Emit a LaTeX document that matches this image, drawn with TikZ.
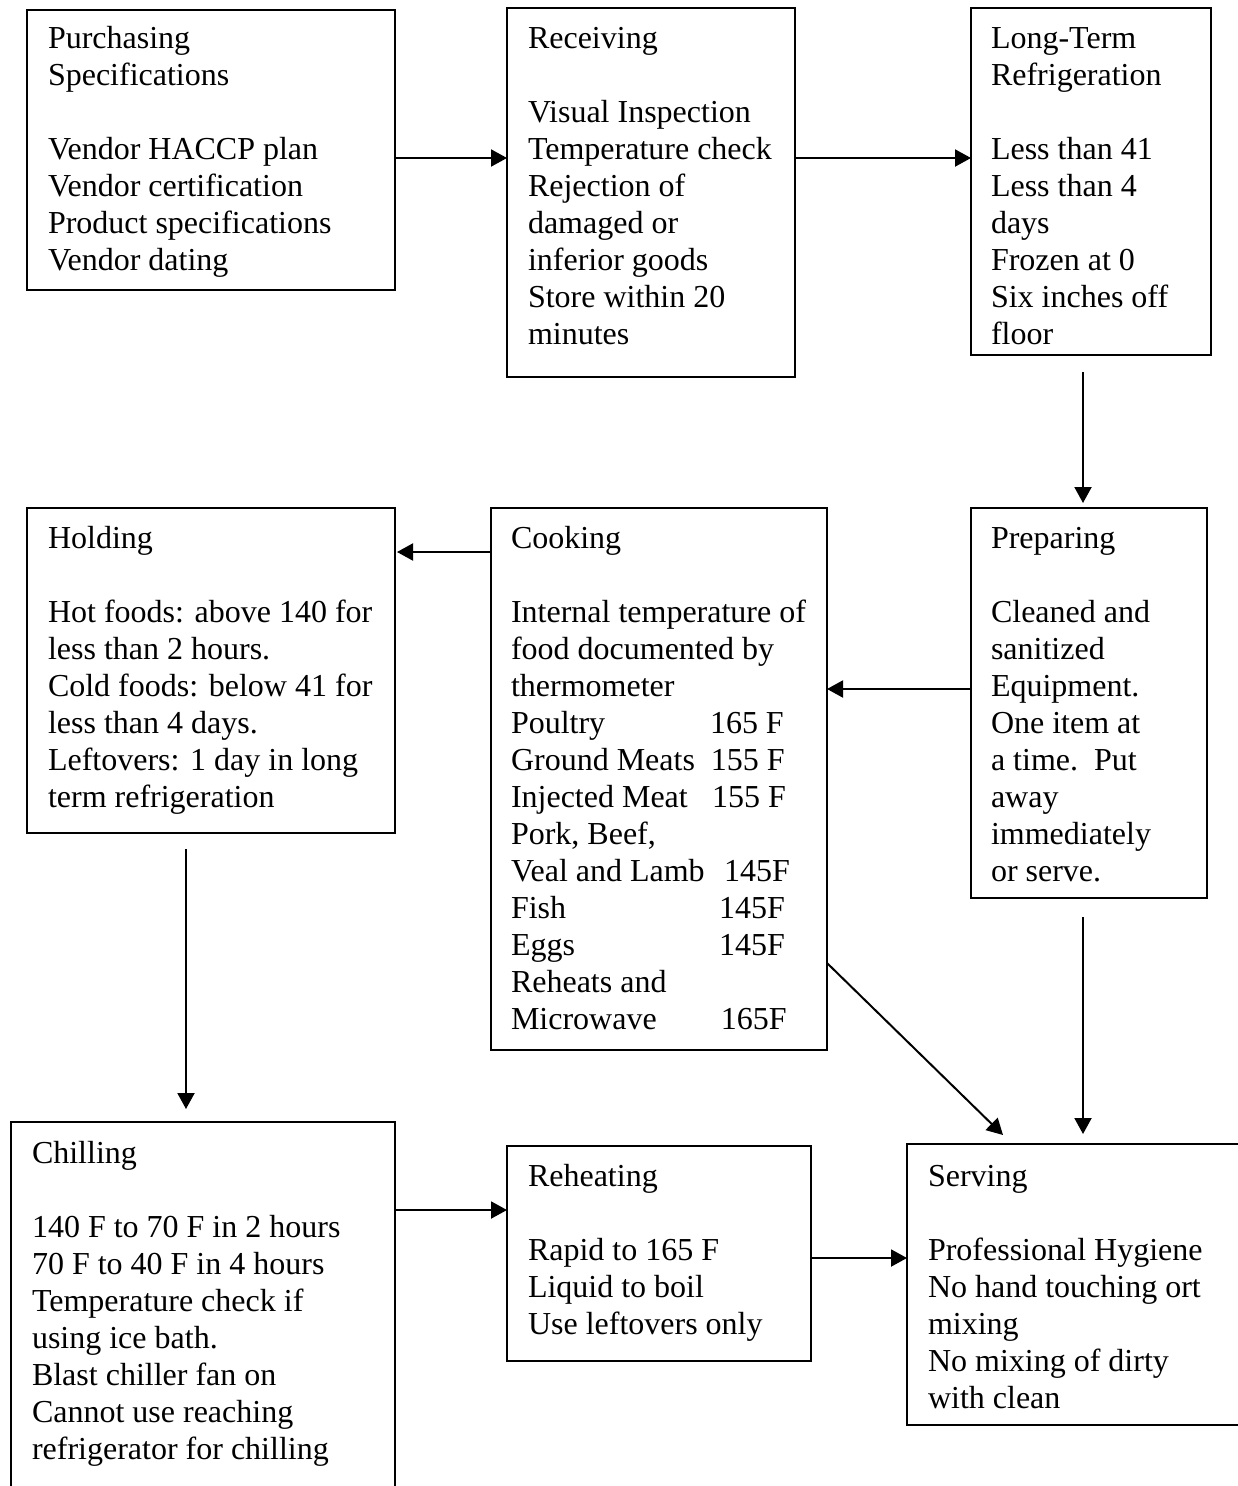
\documentclass[tikz,border=0pt]{standalone}
\usepackage{fontspec}
\setmainfont{Liberation Serif}
\usetikzlibrary{arrows.meta}
\begin{document}
\begin{tikzpicture}[x=1pt,y=-1pt,
  box/.style={draw, line width=2pt, rectangle, inner sep=0pt, outer sep=0pt, anchor=north west},
  txt/.style={anchor=north west, inner sep=0pt, outer sep=0pt, align=left, font=\fontsize{32pt}{37pt}\selectfont},
  arr/.style={line width=2pt, -{Triangle[width=17pt,length=16pt]}}]
\useasboundingbox (0,0) rectangle (1238,1486);
% boxes
\node[box, minimum width=368pt, minimum height=280pt] (purch) at (27,10) {};
\node[box, minimum width=288pt, minimum height=369pt] (recv) at (507,8) {};
\node[box, minimum width=240pt, minimum height=347pt] (ltr) at (971,8) {};
\node[box, minimum width=368pt, minimum height=325pt] (hold) at (27,508) {};
\node[box, minimum width=336pt, minimum height=542pt] (cook) at (491,508) {};
\node[box, minimum width=236pt, minimum height=390pt] (prep) at (971,508) {};
\node[box, minimum width=384pt, minimum height=380pt] (chill) at (11,1122) {};
\node[box, minimum width=304pt, minimum height=215pt] (reheat) at (507,1146) {};
\node[box, minimum width=343pt, minimum height=281pt] (serve) at (907,1144) {};
% texts
\node[txt] (purchT) at ([xshift=21pt,yshift=-13pt]purch.north west)
 {\strut Purchasing\\Specifications\\[37pt]Vendor HACCP plan\\Vendor certification\\Product specifications\\Vendor dating};
\node[txt] (recvT) at ([xshift=21pt,yshift=-15pt]recv.north west)
 {\strut Receiving\\[37pt]Visual Inspection\\Temperature check\\Rejection of\\damaged or\\inferior goods\\Store within 20\\minutes};
\node[txt] (ltrT) at ([xshift=20pt,yshift=-15pt]ltr.north west)
 {\strut Long-Term\\Refrigeration\\[37pt]Less than 41\\Less than 4\\days\\Frozen at 0\\Six inches off\\floor};
\node[txt] (holdT) at ([xshift=21pt,yshift=-15pt]hold.north west)
 {\strut Holding\\[37pt]Hot foods: above 140 for\\less than 2 hours.\\Cold foods: below 41 for\\less than 4 days.\\Leftovers: 1 day in long\\term refrigeration};
\node[txt] (cookT) at ([xshift=20pt,yshift=-15pt]cook.north west)
 {\strut Cooking\\[37pt]Internal temperature of\\food documented by\\thermometer\\
  \makebox[199pt][l]{Poultry}165 F\\
  \makebox[200pt][l]{Ground Meats}155 F\\
  \makebox[201pt][l]{Injected Meat}155 F\\
  Pork, Beef,\\
  \makebox[213pt][l]{Veal and Lamb}145F\\
  \makebox[208pt][l]{Fish}145F\\
  \makebox[208pt][l]{Eggs}145F\\
  Reheats and\\
  \makebox[210pt][l]{Microwave}165F};
\node[txt] (prepT) at ([xshift=20pt,yshift=-15pt]prep.north west)
 {\strut Preparing\\[37pt]Cleaned and\\sanitized\\Equipment.\\One item at\\a time.\ \ Put\\away\\immediately\\or serve.};
\node[txt] (chillT) at ([xshift=21pt,yshift=-16pt]chill.north west)
 {\strut Chilling\\[37pt]140 F to 70 F in 2 hours\\70 F to 40 F in 4 hours\\Temperature check if\\using ice bath.\\Blast chiller fan on\\Cannot use reaching\\refrigerator for chilling};
\node[txt] (reheatT) at ([xshift=21pt,yshift=-15pt]reheat.north west)
 {\strut Reheating\\[37pt]Rapid to 165 F\\Liquid to boil\\Use leftovers only};
\node[txt] (serveT) at ([xshift=21pt,yshift=-17pt]serve.north west)
 {\strut Serving\\[37pt]Professional Hygiene\\No hand touching ort\\mixing\\No mixing of dirty\\with clean};
% connector start points
\coordinate (s3) at ([xshift=-8pt,yshift=-17pt]ltr.south);
\coordinate (s6) at ([xshift=-25pt,yshift=-16pt]hold.south);
\coordinate (s8) at ([xshift=-6pt,yshift=-19pt]prep.south);
% connectors
\draw[arr] ([yshift=-8pt]purch.east) -- ([yshift=-8pt]purch.east -| recv.west);
\draw[arr] ([yshift=34.5pt]recv.east) -- ([yshift=34.5pt]recv.east -| ltr.west);
\draw[arr, shorten >=5pt] (s3) -- (s3 |- prep.north);
\draw[arr, shorten >=2pt] ([yshift=-44pt]cook.north west) -- ([yshift=-44pt]cook.north west -| hold.east);
\draw[arr] ([yshift=14pt]prep.west) -- ([yshift=14pt]prep.west -| cook.east);
\draw[arr, shorten >=13pt] (s6) -- (s6 |- chill.north);
\draw[arr] ([yshift=-184pt]cook.east) -- ([xshift=96pt,yshift=9pt]serve.north west);
\draw[arr, shorten >=10pt] (s8) -- (s8 |- serve.north);
\draw[arr] ([yshift=-88pt]chill.north east) -- ([yshift=-88pt]chill.north east -| reheat.west);
\draw[arr] ([yshift=-4.5pt]reheat.east) -- ([yshift=-4.5pt]reheat.east -| serve.west);
\end{tikzpicture}
\end{document}
